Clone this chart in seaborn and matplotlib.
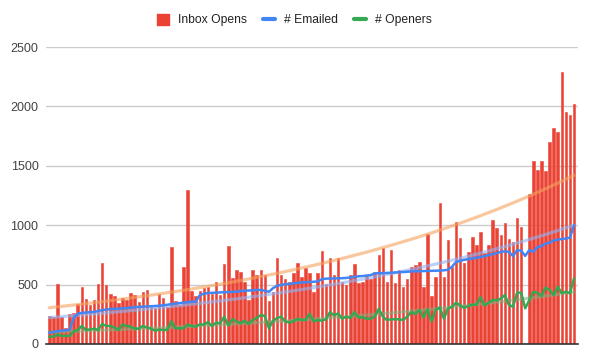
import numpy as np
import pandas as pd
import seaborn as sns
import matplotlib.pyplot as plt
from matplotlib.patches import Patch
from matplotlib.lines import Line2D

inbox_opens = [
    235, 224, 501, 224, 132, 249, 263, 333, 484, 375, 325, 367, 501, 686, 493, 417, 400, 342,
    384, 367, 426, 409, 350, 434, 451, 309, 300, 417, 384, 309, 820, 358, 325, 652, 1299, 442,
    400, 442, 468, 476, 417, 526, 410, 676, 829, 552, 627, 610, 518, 367, 619, 585, 619, 585,
    358, 434, 728, 585, 543, 526, 594, 686, 568, 636, 594, 434, 594, 780, 501, 728, 585, 720,
    526, 493, 585, 670, 510, 526, 585, 543, 602, 746, 805, 526, 788, 510, 619, 476, 543, 644, 661,
    694, 476, 926, 400, 568, 1184, 568, 873, 650, 1024, 889, 686, 772, 898, 830, 940, 763, 830,
    1041, 974, 915, 1016, 881, 856, 1058, 982, 0, 1260, 1538, 1462, 1538, 1453, 1698, 1815, 1782,
    2287, 1950, 1925, 2018,
]

emailed = [
    95, 100, 108, 112, 115, 120, 220, 255, 262, 265, 268, 270, 278, 285, 290, 294, 296, 297,
    300, 303, 306, 310, 313, 314, 316, 318, 320, 322, 326, 330, 336, 340, 344, 348, 352, 356,
    356, 410, 424, 428, 431, 432, 434, 436, 437, 438, 440, 446, 448, 450, 452, 455, 455, 448,
    440, 470, 490, 498, 503, 506, 510, 514, 518, 520, 522, 524, 527, 545, 550, 551, 552, 553,
    554, 556, 560, 565, 570, 572, 576, 580, 594, 596, 597, 598, 600, 602, 604, 606, 608, 611, 613,
    612, 614, 615, 616, 617, 618, 620, 625, 650, 690, 700, 708, 714, 720, 725, 732, 740, 748,
    756, 765, 775, 780, 776, 740, 790, 786, 742, 790, 778, 815, 825, 845, 852, 872, 878,
    884, 888, 895, 1000,
]

openers = [
    62, 62, 79, 67, 70, 67, 107, 118, 152, 118, 123, 129, 118, 168, 152, 152, 140, 118,
    163, 152, 146, 129, 129, 152, 140, 129, 112, 121, 118, 118, 191, 132, 132, 132, 163, 152,
    146, 166, 163, 185, 152, 180, 174, 230, 157, 208, 191, 174, 196, 168, 202, 219, 244, 236,
    132, 196, 219, 230, 191, 180, 191, 213, 202, 202, 253, 191, 202, 196, 208, 269, 241, 258,
    213, 230, 219, 269, 224, 224, 213, 213, 230, 297, 230, 202, 208, 208, 208, 202, 230, 269, 253,
    286, 224, 292, 191, 286, 309, 213, 297, 314, 348, 325, 303, 320, 331, 331, 393, 325, 348,
    370, 370, 382, 412, 328, 314, 432, 432, 300, 370, 438, 432, 404, 474, 455, 412, 483,
    427, 441, 427, 553,
]

df = pd.DataFrame({
    'day': np.arange(len(inbox_opens)),
    'Inbox Opens': inbox_opens,
    '# Emailed': emailed,
    '# Openers': openers,
})


def exp_trend(col, weighted=False):
    d = df[df[col] > 0]
    w = np.sqrt(d[col]) if weighted else None
    b, a = np.polyfit(d['day'], np.log(d[col]), 1, w=w)
    return np.exp(a + b * df['day'])


df['opens_trend'] = exp_trend('Inbox Opens', weighted=True)
df['emailed_trend'] = exp_trend('# Emailed')
df['openers_trend'] = exp_trend('# Openers')

red, blue, green = '#ea4335', '#4285f4', '#34a853'

sns.set_style('white')
plt.rcParams['font.family'] = ['Liberation Sans', 'DejaVu Sans']

fig = plt.figure(figsize=(5.91, 3.64), dpi=100)
ax = fig.add_axes([45.5 / 591, 20 / 364, (578 - 45.5) / 591, 297 / 364])

sns.barplot(df, x='day', y='Inbox Opens', color=red, width=0.62, saturation=1,
            edgecolor=red, linewidth=0.4, ax=ax, zorder=2)
sns.lineplot(df, x='day', y='opens_trend', color='#f6a25e', alpha=0.6, lw=2.3, ax=ax, zorder=3)
sns.lineplot(df, x='day', y='emailed_trend', color='#8fb5f8', alpha=0.6, lw=2.3, ax=ax, zorder=3)
sns.lineplot(df, x='day', y='openers_trend', color='#7fb27f', alpha=0.55, lw=2.3, ax=ax, zorder=3)
sns.lineplot(df, x='day', y='# Emailed', color=blue, lw=1.8, ax=ax, zorder=4)
sns.lineplot(df, x='day', y='# Openers', color=green, lw=1.8, ax=ax, zorder=4)

ax.set_xlim(-0.93, 129.98)
ax.set_ylim(0, 2500)
ax.set_yticks([0, 500, 1000, 1500, 2000, 2500])
ax.yaxis.grid(True, color='#cccccc', lw=1)
ax.set_axisbelow(True)
ax.set_xticks([])
ax.set_xlabel('')
ax.set_ylabel('')
ax.tick_params(axis='y', length=0, labelsize=9, labelcolor='#444444', pad=5)
for s in ['top', 'right', 'left']:
    ax.spines[s].set_visible(False)
ax.spines['bottom'].set_color('#333333')
ax.spines['bottom'].set_linewidth(1.2)
ax.spines['bottom'].set_zorder(5)

handles = [
    Patch(color=red),
    Line2D([], [], color=blue, lw=3),
    Line2D([], [], color=green, lw=3),
]
fig.legend(handles, ['Inbox Opens', '# Emailed', '# Openers'], loc='center',
           bbox_to_anchor=(0.498, 0.945), ncol=3, frameon=False, fontsize=8.7,
           handlelength=1.0, handleheight=1.0, handletextpad=0.75, columnspacing=1.3,
           labelcolor='#222222')

fig.savefig('out.png', dpi=100)
